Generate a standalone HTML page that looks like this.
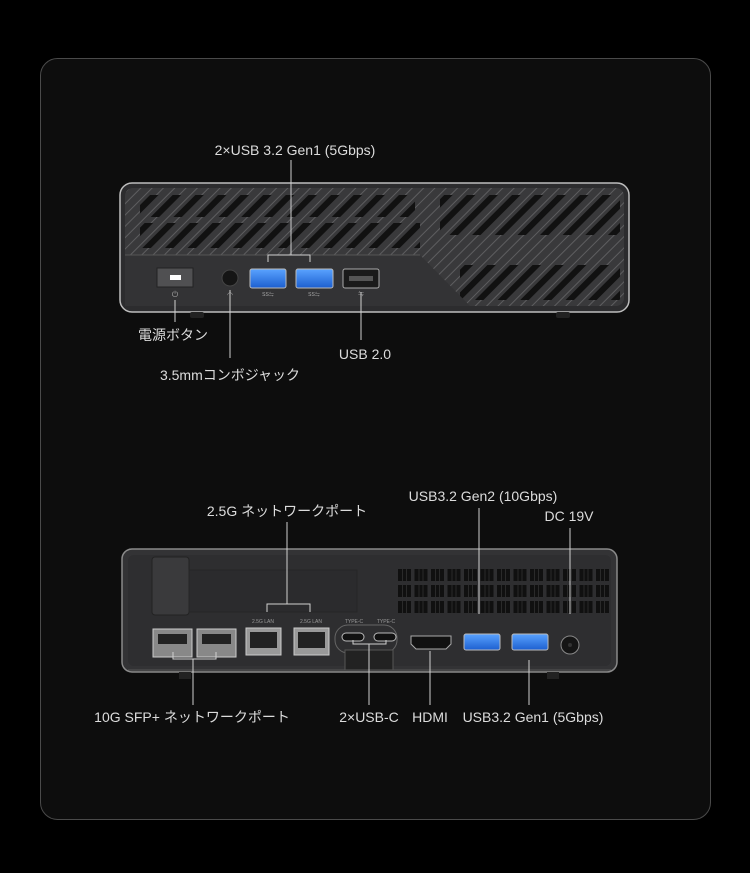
<!DOCTYPE html>
<html><head><meta charset="utf-8"><style>
html,body{margin:0;padding:0;background:#000;}
body{width:750px;height:868px;overflow:hidden;}
text{font-family:"Liberation Sans","Noto Sans CJK JP",sans-serif;font-size:14px;fill:#dcdcdc;}
</style></head><body>
<svg width="750" height="868" viewBox="0 0 750 868" xmlns="http://www.w3.org/2000/svg">
<defs>
<pattern id="lines" width="8" height="8" patternUnits="userSpaceOnUse" patternTransform="rotate(45)">
<rect width="8" height="8" fill="#39393b"/>
<rect x="0" y="0" width="1" height="8" fill="#5e5e60"/>
</pattern>
<pattern id="slots" width="16" height="16" patternUnits="userSpaceOnUse" patternTransform="rotate(45)">
<rect x="4" y="0" width="6" height="16" fill="#111"/>
</pattern>
<pattern id="grille" width="16.5" height="16" patternUnits="userSpaceOnUse" x="398" y="569">
<rect x="0" y="0" width="13" height="12" fill="#101010"/>
<rect x="4" y="0" width="1" height="12" fill="#2a2a2a"/>
<rect x="8" y="0" width="1" height="12" fill="#2a2a2a"/>
</pattern>
<linearGradient id="blue" x1="0" y1="0" x2="0" y2="1"><stop offset="0" stop-color="#5aa3ff"/><stop offset="1" stop-color="#1c5fd0"/></linearGradient>
</defs>
<rect x="40.5" y="58.5" width="670" height="761" rx="17" fill="#0d0d0d" stroke="#4a4a4a"/>

<rect x="120" y="183" width="509" height="129" rx="12" fill="#2c2c2e" stroke="#bdbdbd" stroke-width="1.5"/>
<rect x="125" y="188" width="499" height="118" rx="8" fill="url(#lines)"/>
<clipPath id="c1"><rect x="140" y="195" width="275" height="22"/><rect x="140" y="223" width="280" height="25"/><rect x="440" y="195" width="180" height="40"/><rect x="460" y="265" width="160" height="35"/></clipPath>
<g clip-path="url(#c1)">
<rect x="125" y="188" width="499" height="118" fill="url(#slots)"/>
</g>
<path d="M125 255 H420 L470 306 H125 Z" fill="#333335"/>
<line x1="125" y1="255" x2="420" y2="255" stroke="#555"/>
<rect x="157" y="268" width="36" height="19" fill="#505052" stroke="#222"/>
<rect x="170" y="275" width="11" height="5" fill="#fff"/>
<text x="175" y="297" text-anchor="middle" style="font-size:8px;fill:#aaa">⏻</text>
<circle cx="230" cy="278" r="8" fill="#151515" stroke="#444"/>
<text x="230" y="297" text-anchor="middle" style="font-size:7px;fill:#aaa">◠</text>
<rect x="250" y="269" width="36" height="19" rx="2" fill="url(#blue)" stroke="#bbb"/>
<rect x="296" y="269" width="37" height="19" rx="2" fill="url(#blue)" stroke="#bbb"/>
<rect x="343" y="269" width="36" height="19" rx="2" fill="#1a1a1a" stroke="#aaa"/>
<rect x="349" y="276" width="24" height="5" fill="#555"/>
<text x="268" y="296" text-anchor="middle" style="font-size:5px;fill:#aaa">SS⇋</text>
<text x="314" y="296" text-anchor="middle" style="font-size:5px;fill:#aaa">SS⇋</text>
<text x="361" y="296" text-anchor="middle" style="font-size:6px;fill:#aaa">⇋</text>
<rect x="190" y="312" width="14" height="6" rx="2" fill="#222"/>
<rect x="556" y="312" width="14" height="6" rx="2" fill="#222"/>
<g stroke="#d0d0d0" stroke-width="1" fill="none">
<line x1="291" y1="160" x2="291" y2="255"/>
<path d="M268 262 V255 H310 V262"/>
<line x1="175" y1="300" x2="175" y2="322"/>
<line x1="230" y1="290" x2="230" y2="358"/>
<line x1="361" y1="292" x2="361" y2="340"/>
</g>
<text x="295" y="155" text-anchor="middle">2×USB 3.2 Gen1 (5Gbps)</text>
<text x="173" y="340" text-anchor="middle">電源ボタン</text>
<text x="230" y="380" text-anchor="middle">3.5mmコンボジャック</text>
<text x="365" y="359" text-anchor="middle">USB 2.0</text>

<rect x="122" y="549" width="495" height="123" rx="10" fill="#333335" stroke="#8a8a8a" stroke-width="1.5"/>
<rect x="128" y="555" width="483" height="111" rx="6" fill="#2e2e30"/>
<rect x="152" y="557" width="37" height="58" rx="3" fill="#3a3a3c" stroke="#222"/>
<rect x="189" y="570" width="168" height="42" fill="#2b2b2d" stroke="#262626"/>
<rect x="398" y="569" width="214" height="48" fill="url(#grille)"/>
<line x1="128" y1="670" x2="611" y2="670" stroke="#555"/>
<rect x="153" y="629" width="39" height="28" fill="#888" stroke="#ccc"/>
<rect x="158" y="634" width="29" height="10" fill="#222"/>
<rect x="197" y="629" width="39" height="28" fill="#888" stroke="#ccc"/>
<rect x="202" y="634" width="29" height="10" fill="#222"/>
<rect x="246" y="628" width="35" height="27" fill="#999" stroke="#ccc"/>
<rect x="250" y="632" width="27" height="16" fill="#222"/>
<rect x="294" y="628" width="35" height="27" fill="#999" stroke="#ccc"/>
<rect x="298" y="632" width="27" height="16" fill="#222"/>
<text x="263" y="623" text-anchor="middle" style="font-size:5px;fill:#999">2.5G LAN</text>
<text x="311" y="623" text-anchor="middle" style="font-size:5px;fill:#999">2.5G LAN</text>
<text x="354" y="623" text-anchor="middle" style="font-size:5px;fill:#999">TYPE-C</text>
<text x="386" y="623" text-anchor="middle" style="font-size:5px;fill:#999">TYPE-C</text>
<rect x="335" y="625" width="62" height="28" rx="13" fill="none" stroke="#666"/>
<rect x="342" y="633" width="22" height="8" rx="4" fill="#111" stroke="#bbb"/>
<rect x="374" y="633" width="22" height="8" rx="4" fill="#111" stroke="#bbb"/>
<rect x="345" y="650" width="48" height="20" fill="#222" stroke="#555"/>
<path d="M411 636 H451 V644 L446 649 H416 L411 644 Z" fill="#111" stroke="#aaa"/>
<rect x="464" y="634" width="36" height="16" rx="2" fill="url(#blue)" stroke="#bbb"/>
<rect x="512" y="634" width="36" height="16" rx="2" fill="url(#blue)" stroke="#bbb"/>
<circle cx="570" cy="645" r="9" fill="#151515" stroke="#888"/>
<circle cx="570" cy="645" r="2" fill="#333"/>
<rect x="179" y="672" width="12" height="7" fill="#222"/>
<rect x="547" y="672" width="12" height="7" fill="#222"/>
<g stroke="#d0d0d0" stroke-width="1" fill="none">
<line x1="287" y1="522" x2="287" y2="604"/>
<path d="M267 612 V604 H310 V612"/>
<line x1="479" y1="508" x2="479" y2="614"/>
<line x1="570" y1="528" x2="570" y2="614"/>
<path d="M173 652 V659 H216 V652"/>
<line x1="193" y1="659" x2="193" y2="705"/>
<path d="M353 640 V644 H386 V640"/>
<line x1="369" y1="644" x2="369" y2="705"/>
<line x1="430" y1="651" x2="430" y2="705"/>
<line x1="529" y1="660" x2="529" y2="705"/>
</g>
<text x="287" y="516" text-anchor="middle">2.5G ネットワークポート</text>
<text x="483" y="501" text-anchor="middle">USB3.2 Gen2 (10Gbps)</text>
<text x="569" y="521" text-anchor="middle">DC 19V</text>
<text x="192" y="722" text-anchor="middle">10G SFP+ ネットワークポート</text>
<text x="369" y="722" text-anchor="middle">2×USB-C</text>
<text x="430" y="722" text-anchor="middle">HDMI</text>
<text x="533" y="722" text-anchor="middle">USB3.2 Gen1 (5Gbps)</text>
</svg>
</body></html>
